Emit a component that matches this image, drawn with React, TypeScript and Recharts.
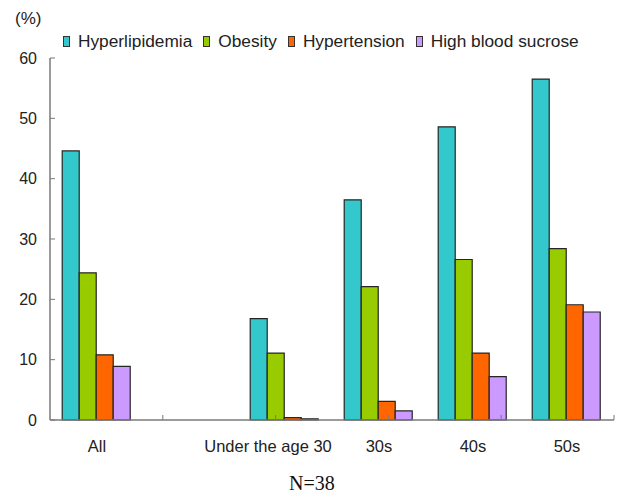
import { BarChart, Bar, XAxis, YAxis, Legend } from 'recharts';

const categories = ['All', '', 'Under the age 30', '30s', '40s', '50s'];
const hyperlipidemia = [44.6, null, 16.8, 36.5, 48.6, 56.5];
const obesity = [24.4, null, 11.1, 22.1, 26.6, 28.4];
const hypertension = [10.8, null, 0.4, 3.1, 11.1, 19.1];
const highBloodSucrose = [8.9, null, 0.2, 1.5, 7.2, 17.9];
const yTicks = [0, 10, 20, 30, 40, 50, 60];

const SERIES = [
    { key: 'hyperlipidemia', name: 'Hyperlipidemia', color: '#33C9CC' },
    { key: 'obesity', name: 'Obesity', color: '#99CC00' },
    { key: 'hypertension', name: 'Hypertension', color: '#FF6600' },
    { key: 'highBloodSucrose', name: 'High blood sucrose', color: '#CC99FF' },
];

const data = categories.map((category, i) => ({
    category,
    hyperlipidemia: hyperlipidemia[i],
    obesity: obesity[i],
    hypertension: hypertension[i],
    highBloodSucrose: highBloodSucrose[i],
}));

// tick marks sit on the category boundaries, like the old Excel charts
const edgeTicks = categories.slice(1).map((_, i) => i + 1);

const FONT = "Arial, 'Liberation Sans', sans-serif";
const AXIS = '#7a7a7a';
const Y_MARGIN = 13;
const LONG_LABEL_SHIFT = -17;

const YTick = ({ x, y, payload }: any) => (
    <g>
        <line x1={x + Y_MARGIN} x2={x + Y_MARGIN + 5} y1={y} y2={y} stroke={AXIS} />
        <text x={x} y={y} dy={5.5} textAnchor="end" fontSize={16} fill="#222" fontFamily={FONT}>
            {payload.value}
        </text>
    </g>
);

const XTick = ({ x, y, payload }: any) => {
    if (!payload.value) return <g />;
    const shift = payload.value.length > 10 ? LONG_LABEL_SHIFT : 0;
    return (
        <text x={x + shift} y={y} dy={30} textAnchor="middle" fontSize={16.5} fill="#222" fontFamily={FONT}>
            {payload.value}
        </text>
    );
};

const LegendContent = () => (
    <div style={{ display: 'flex', alignItems: 'center', fontFamily: FONT, fontSize: 17.3, color: '#222' }}>
        {SERIES.map(s => (
            <div key={s.key} style={{ display: 'flex', alignItems: 'center', marginRight: 11 }}>
                <span style={{ display: 'inline-block', width: 5, height: 9, background: s.color, border: '1px solid #333', marginRight: 8 }} />
                <span>{s.name}</span>
            </div>
        ))}
    </div>
);

export default function App() {
    return (
        <div style={{ position: 'absolute', left: 0, top: 0, width: 617, height: 494, background: '#fff' }}>
            <div style={{ position: 'absolute', left: 15, top: 9, fontFamily: FONT, fontSize: 17, color: '#222' }}>(%)</div>
            <BarChart width={617} height={494} data={data} margin={{ top: 58, right: 3, left: 0, bottom: 34 }}
                barCategoryGap="13%" barGap={0}>
                <XAxis xAxisId="edge" type="number" domain={[0, categories.length]} ticks={edgeTicks} allowDataOverflow
                    height={1} mirror axisLine={false} tickSize={5} tickLine={{ stroke: AXIS }} tick={() => <g />} />
                <XAxis xAxisId="cat" dataKey="category" height={40} interval={0} axisLine={{ stroke: AXIS, strokeWidth: 1.5 }}
                    tickLine={false} tickSize={0} tick={<XTick />} />
                <YAxis domain={[0, 60]} ticks={yTicks} interval={0} width={50} axisLine={{ stroke: AXIS, strokeWidth: 1.5 }}
                    tickLine={false} tickSize={0} tickMargin={Y_MARGIN} tick={<YTick />} />
                <Legend layout="horizontal" verticalAlign="middle" align="center" content={<LegendContent />}
                    wrapperStyle={{ top: 31, left: 63, width: 560, height: 20 }} />
                {SERIES.map(s => (
                    <Bar key={s.key} xAxisId="cat" dataKey={s.key} name={s.name} fill={s.color}
                        stroke="#262626" strokeWidth={1.2} isAnimationActive={false} />
                ))}
            </BarChart>
            <div style={{ position: 'absolute', left: 289, top: 472, fontFamily: "'Liberation Serif', 'Times New Roman', serif", fontSize: 20, color: '#111' }}>
                N=38
            </div>
        </div>
    );
}
